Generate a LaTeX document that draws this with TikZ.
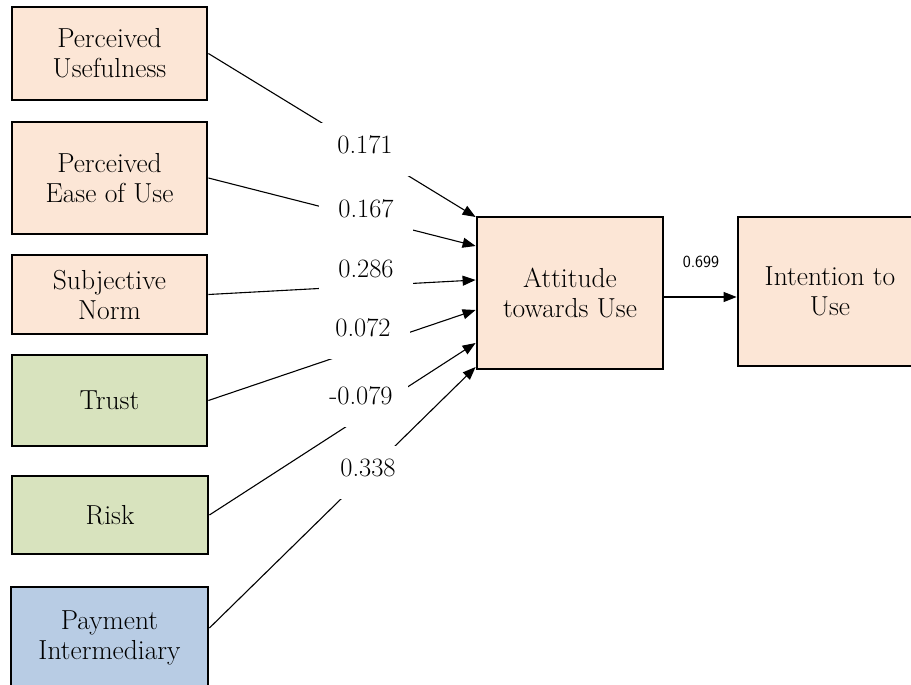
\documentclass[tikz,border=0pt]{standalone}
\usetikzlibrary{arrows.meta,calc}
\definecolor{peach}{HTML}{FCE6D6}
\definecolor{sage}{HTML}{D8E3BE}
\definecolor{sky}{HTML}{B8CCE4}
\begin{document}
\begin{tikzpicture}[x=1pt,y=-1pt,
  box/.style={draw=black, line width=2.8pt, inner sep=0pt, align=center, font=\fontsize{27.5}{30}\selectfont},
  conn/.style={line width=1.1pt, -{Triangle[length=13pt,width=10pt]}},
  wlabel/.style={fill=white, inner sep=0pt, minimum width=94pt, minimum height=53pt, text height=17pt, text depth=9pt, font=\fontsize{26.5}{30}\selectfont}]
\useasboundingbox (0,0) rectangle (911,685);
\clip (0,0) rectangle (911,685);
% boxes
\node[box, fill=peach, minimum width=195pt, minimum height=93pt] (PU) at (109.5,53.5) {Perceived\\Usefulness};
\node[box, fill=peach, minimum width=195pt, minimum height=112pt] (PEOU) at (109.5,178) {Perceived\\Ease of Use};
\node[box, fill=peach, minimum width=195pt, minimum height=79pt] (SN) at (109.5,294.5) {Subjective\\Norm};
\node[box, fill=sage, minimum width=195pt, minimum height=91pt] (Trust) at (109.5,400.5) {Trust};
\node[box, fill=sage, minimum width=196pt, minimum height=78pt] (Risk) at (110,515) {Risk};
\node[box, fill=sky, minimum width=197pt, minimum height=102pt] (PI) at (109.5,638) {Payment\\Intermediary};
\node[box, fill=peach, minimum width=186pt, minimum height=152pt] (ATU) at (570,293) {Attitude\\towards Use};
\node[box, fill=peach, minimum width=184pt, minimum height=149pt] (ITU) at (830,291.5) {Intention to\\Use};
% connectors
\draw[conn] (PU.east) -- ([yshift=76pt]ATU.west);
\draw[conn] (PEOU.east) -- ([yshift=47pt]ATU.west);
\draw[conn] (SN.east) -- ([yshift=13pt]ATU.west);
\draw[conn] (Trust.east) -- ([yshift=-17pt]ATU.west);
\draw[conn] (Risk.east) -- ([yshift=-50pt]ATU.west);
\draw[conn] ([yshift=10pt]PI.east) -- ([yshift=-74pt]ATU.west);
\draw[conn] ([yshift=-4pt]ATU.east) -- ([yshift=-4pt]ATU.east -| ITU.west);
% labels
\node[wlabel] (l1) at (365,149) {0.171};
\node[wlabel] (l2) at (366,213) {0.167};
\node[wlabel] (l3) at (366,273) {0.286};
\node[wlabel] (l4) at (363,332) {0.072};
\node[wlabel] (l5) at (361,400) {-0.079};
\node[wlabel] (l6) at (368,472) {0.338};
\node[font=\sffamily\fontsize{17}{20}\selectfont] (l7) at (701,262) {0.699};
\end{tikzpicture}
\end{document}
